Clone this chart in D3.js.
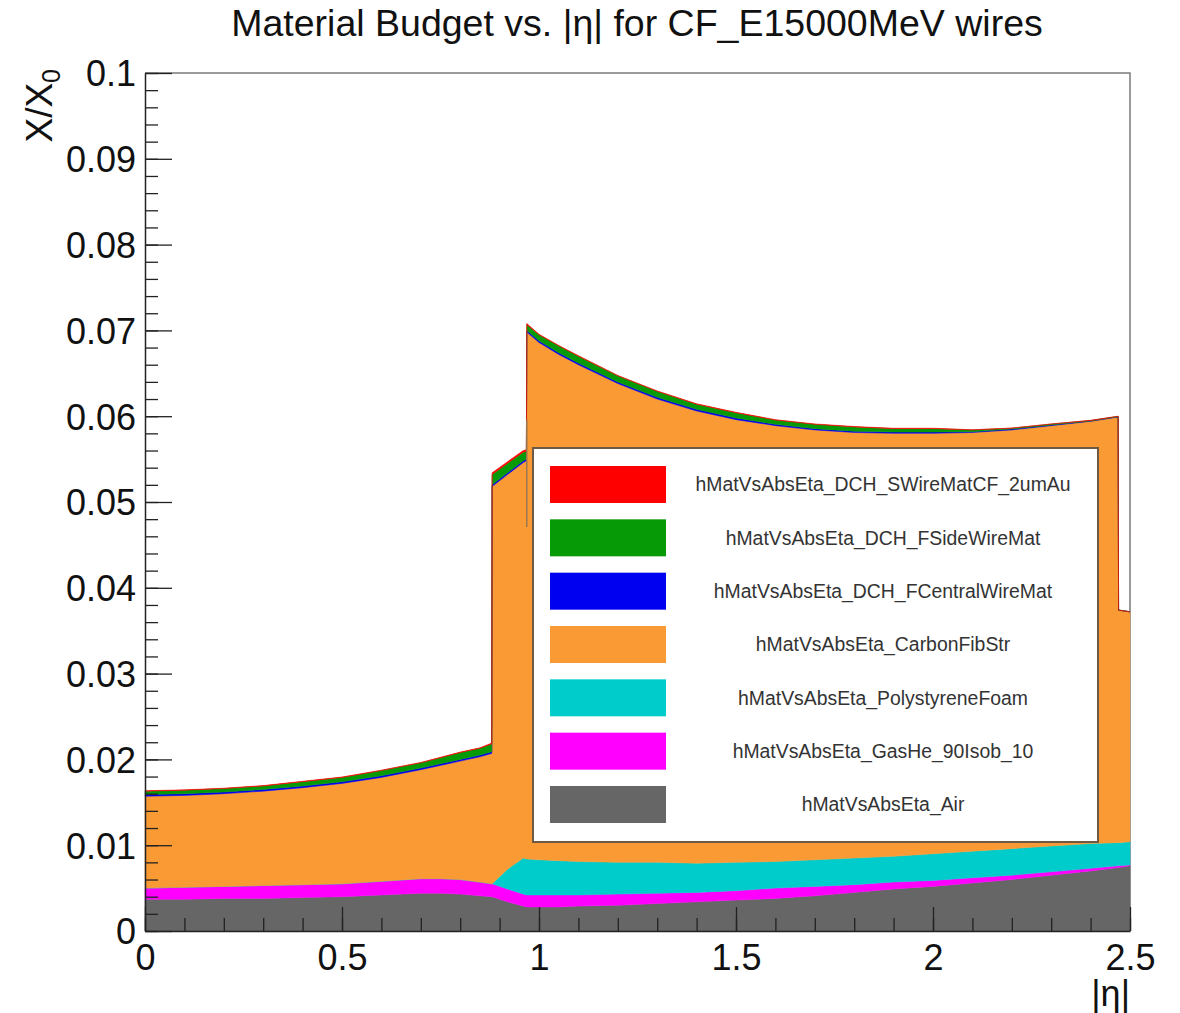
<!DOCTYPE html>
<html lang="en">
<head>
<meta charset="UTF-8" />
<title>Material Budget vs. |η| for CF_E15000MeV wires</title>
<script src="https://cdn.jsdelivr.net/npm/d3@7"></script>
<style>
    body { margin: 0; padding: 0; background: #fff; }
    text { font-family: "Liberation Sans", Arial, sans-serif; }
</style>
</head>
<body>
<svg width="1180" height="1013"></svg>
<script>
// |eta| sample points (doubled points mark the steps of the histograms)
var eta = [0, 0.1, 0.2, 0.3, 0.4, 0.5, 0.6, 0.7, 0.75, 0.8, 0.85, 0.88, 0.881, 0.92, 0.96, 0.968, 0.969,
    1.0, 1.05, 1.1, 1.2, 1.3, 1.4, 1.5, 1.6, 1.7, 1.8, 1.9, 2.0, 2.1, 2.2, 2.3, 2.4, 2.47, 2.471, 2.5];

// X/X0 contribution of each material (stacked bottom -> top)
var air = [.0037, .0037, .0038, .0038, .0039, .0040, .0042, .0044, .0044, .0043, .0041, .0040, .0040, .0034, .0029, .0028, .0028,
    .0028, .0028, .0029, .0030, .0032, .0034, .0036, .0038, .0041, .0045, .0049, .0052, .0056, .0060, .0065, .0070, .0074, .0074, .0076];
var gasHe = [.0013, .0014, .0014, .0015, .0015, .0015, .0016, .0017, .0017, .0017, .0016, .0015, .0015, .0015, .0014, .0014, .0014,
    .0014, .0014, .0013, .0013, .0012, .0011, .0011, .0012, .0011, .0009, .0008, .0007, .0006, .0005, .0004, .0003, .0002, .0002, .0001];
var foam = [0, 0, 0, 0, 0, 0, 0, 0, 0, 0, 0, 0, 0, .0023, .0042, .0042, .0042,
    .0041, .0040, .0039, .0037, .0036, .0034, .0033, .0031, .0031, .0031, .0030, .0031, .0031, .0031, .0030, .0029, .0027, .0027, .0027];
var carbon = [.0107, .0107, .0108, .0110, .0113, .0117, .0121, .0127, .0132, .0138, .0146, .0152, .0463, .0460, .0461, .0464, .0614,
    .0603, .0590, .0579, .0558, .0540, .0527, .0516, .0508, .0501, .0496, .0493, .0490, .0488, .0488, .0490, .0492, .0496, .0271, .0268];
var centralWire = [.0002, .0002, .0002, .0002, .0002, .0002, .0002, .0002, .0002, .0002, .0002, .0002, .0002, .0002, .0002, .0002, .0002,
    .0002, .0002, .0002, .0002, .0002, .0002, .0002, .00015, .00015, .00015, .00015, .00015, .0001, .0001, .00008, .00005, .00005, 0, 0];
var sideWire = [.0004, .0004, .0004, .0004, .0005, .0005, .0006, .0006, .0007, .0008, .0008, .0009, .0012, .0011, .0010, .0009, .0007,
    .0007, .0008, .0008, .0007, .0007, .0006, .0006, .0005, .0005, .0005, .0004, .0004, .0002, .0001, .0001, .00005, .00003, 0, 0];
var senseWire = [.00005, .00005, .00005, .00005, .00005, .00005, .00005, .00005, .00005, .00005, .00005, .0001, .0002, .0002, .0002, .0002, .0001,
    .00005, .00005, .00005, .00005, .00005, .00005, .00005, .00005, .00005, .00005, .00005, .00005, .00002, .00002, .00002, .00002, .00002, 0, 0];

var keys = ['air', 'gasHe', 'foam', 'carbon', 'centralWire', 'sideWire', 'senseWire'];
var colors = {
    air: '#666666', gasHe: '#ff00ff', foam: '#00cccc', carbon: '#fa9a35',
    centralWire: '#0000f0', sideWire: '#079a07', senseWire: '#ff0000'
};
var legendNames = {
    senseWire: 'hMatVsAbsEta_DCH_SWireMatCF_2umAu',
    sideWire: 'hMatVsAbsEta_DCH_FSideWireMat',
    centralWire: 'hMatVsAbsEta_DCH_FCentralWireMat',
    carbon: 'hMatVsAbsEta_CarbonFibStr',
    foam: 'hMatVsAbsEta_PolystyreneFoam',
    gasHe: 'hMatVsAbsEta_GasHe_90Isob_10',
    air: 'hMatVsAbsEta_Air'
};
var legendOrder = ['senseWire', 'sideWire', 'centralWire', 'carbon', 'foam', 'gasHe', 'air'];

var xTicks = [0, 0.5, 1, 1.5, 2, 2.5];
var xTickLabels = ['0', '0.5', '1', '1.5', '2', '2.5'];
var yTicks = [0, 0.01, 0.02, 0.03, 0.04, 0.05, 0.06, 0.07, 0.08, 0.09, 0.1];
var yTickLabels = ['0', '0.01', '0.02', '0.03', '0.04', '0.05', '0.06', '0.07', '0.08', '0.09', '0.1'];

// stray histogram edge seen at the carbon step
var edgeEta = 0.969, edgeRange = [0.0471, 0.0596];

var svg = d3.select('svg');
var x = d3.scaleLinear().domain([0, 2.5]).range([145, 1130]);
var y = d3.scaleLinear().domain([0, 0.1]).range([931, 73]);

// frame (top and right), drawn under the histograms
svg.append('path')
    .attr('d', 'M' + x(0) + ',' + y(0.1) + 'H' + x(2.5) + 'V' + y(0))
    .attr('fill', 'none')
    .attr('stroke', '#7a7a7a')
    .attr('stroke-width', 1.5);

var table = eta.map(function (e, i) {
    return {
        eta: e, air: air[i], gasHe: gasHe[i], foam: foam[i], carbon: carbon[i],
        centralWire: centralWire[i], sideWire: sideWire[i], senseWire: senseWire[i]
    };
});
var series = d3.stack().keys(keys)(table);

var area = d3.area()
    .x(function (d) { return x(d.data.eta); })
    .y0(function (d) { return y(d[0]); })
    .y1(function (d) { return y(d[1]); });

svg.append('g').selectAll('path')
    .data(series)
    .join('path')
    .attr('fill', function (d) { return colors[d.key]; })
    .attr('stroke', function (d) { return colors[d.key]; })
    .attr('stroke-width', 0.5)
    .attr('d', area);

svg.append('line')
    .attr('x1', x(edgeEta)).attr('x2', x(edgeEta))
    .attr('y1', y(edgeRange[0])).attr('y2', y(edgeRange[1]))
    .attr('stroke', '#9c7750')
    .attr('stroke-width', 1.5);

// axes
var axisFont = 36;
var xMinor = d3.range(0, 2.501, 0.1);
var yMinor = d3.range(0, 0.1001, 0.002);

svg.append('g')
    .attr('transform', 'translate(0,' + y(0) + ')')
    .call(d3.axisBottom(x).tickValues(xMinor).tickSize(-13).tickSizeOuter(0).tickFormat(''))
    .call(function (g) { g.select('.domain').remove(); });
svg.append('g')
    .attr('transform', 'translate(' + x(0) + ',0)')
    .call(d3.axisLeft(y).tickValues(yMinor).tickSize(-13).tickSizeOuter(0).tickFormat(''))
    .call(function (g) { g.select('.domain').remove(); });

var xAxis = svg.append('g')
    .attr('transform', 'translate(0,' + y(0) + ')')
    .call(d3.axisBottom(x).tickValues(xTicks).tickSize(-24).tickSizeOuter(0).tickPadding(13)
        .tickFormat(function (d, i) { return xTickLabels[i]; }));
var yAxis = svg.append('g')
    .attr('transform', 'translate(' + x(0) + ',0)')
    .call(d3.axisLeft(y).tickValues(yTicks).tickSize(-27).tickSizeOuter(0).tickPadding(9)
        .tickFormat(function (d, i) { return yTickLabels[i]; }));

[xAxis, yAxis].forEach(function (g) {
    g.selectAll('text')
        .attr('font-size', axisFont)
        .attr('font-family', '"Liberation Sans", Arial, sans-serif')
        .attr('fill', '#111');
    g.select('.domain').attr('stroke', '#222').attr('stroke-width', 1.5);
});
svg.selectAll('.tick line').attr('stroke', '#222').attr('stroke-width', 1.3);
yAxis.selectAll('text').attr('dy', '0.36em');

// axis titles
svg.append('text')
    .attr('x', x(2.5))
    .attr('y', 1006)
    .attr('text-anchor', 'end')
    .attr('font-size', 36)
    .attr('fill', '#111')
    .text('|η|');

var yTitle = svg.append('text')
    .attr('transform', 'translate(52,' + (y(0.1) - 4) + ') rotate(-90)')
    .attr('text-anchor', 'end')
    .attr('font-size', 37)
    .attr('fill', '#111');
yTitle.append('tspan').text('X/X');
yTitle.append('tspan').attr('font-size', 25).attr('dy', 8).text('0');

// title
svg.append('text')
    .attr('x', 637)
    .attr('y', 36)
    .attr('text-anchor', 'middle')
    .attr('font-size', 37.5)
    .attr('fill', '#111')
    .text('Material Budget vs. |η| for CF_E15000MeV wires');

// legend
var legend = svg.append('g');
legend.append('rect')
    .attr('x', 533).attr('y', 448)
    .attr('width', 565).attr('height', 394)
    .attr('fill', '#fff')
    .attr('stroke', '#6e5a44')
    .attr('stroke-width', 2);

var rowY = d3.scalePoint().domain(legendOrder).range([484.5, 804.5]);
var rows = legend.selectAll('g.row')
    .data(legendOrder)
    .join('g')
    .attr('class', 'row')
    .attr('transform', function (k) { return 'translate(0,' + rowY(k) + ')'; });
rows.append('rect')
    .attr('x', 550).attr('y', -18.5)
    .attr('width', 116).attr('height', 37)
    .attr('fill', function (k) { return colors[k]; });
rows.append('text')
    .attr('x', 883)
    .attr('dy', '0.35em')
    .attr('text-anchor', 'middle')
    .attr('font-size', 19.4)
    .attr('fill', '#333')
    .text(function (k) { return legendNames[k]; });
</script>
</body>
</html>
